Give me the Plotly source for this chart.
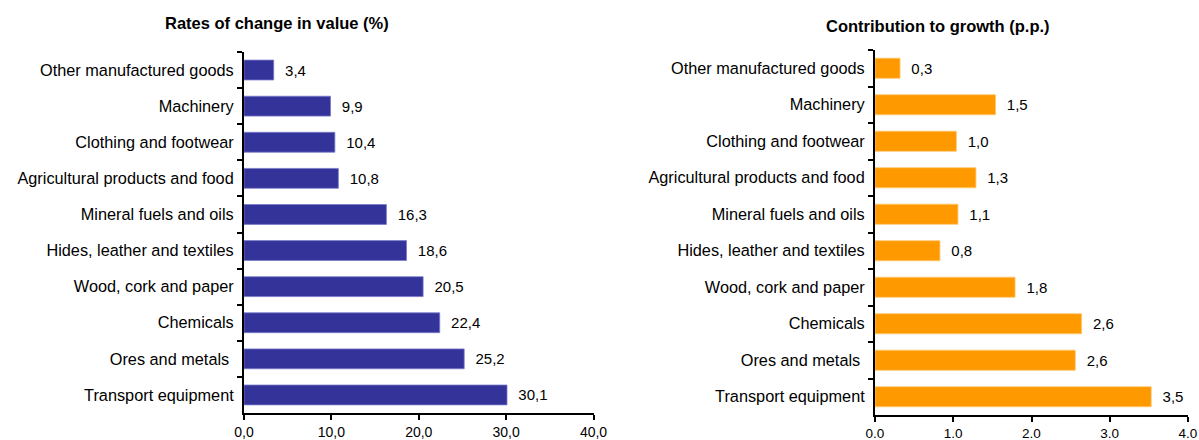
import plotly.graph_objects as go

categories = [
    "Other manufactured goods",
    "Machinery",
    "Clothing and footwear",
    "Agricultural products and food",
    "Mineral fuels and oils",
    "Hides, leather and textiles",
    "Wood, cork and paper",
    "Chemicals",
    "Ores and metals\u00a0",
    "Transport equipment",
]
rates_of_change = [3.4, 9.9, 10.4, 10.8, 16.3, 18.6, 20.5, 22.4, 25.2, 30.1]
contribution = [0.32, 1.54, 1.04, 1.29, 1.06, 0.83, 1.79, 2.64, 2.56, 3.53]

left_tickvals = [0, 10, 20, 30, 40]
left_ticktext = ["0,0", "10,0", "20,0", "30,0", "40,0"]
right_tickvals = [0, 1, 2, 3, 4]
right_ticktext = ["0.0", "1.0", "2.0", "3.0", "4.0"]

title_left = "Rates of change in value (%)"
title_right = "Contribution to growth (p.p.)"

FONT = "Liberation Sans, Arial, sans-serif"
NB = "\u00a0\u00a0"


def fmt(v):
    return NB + f"{v:.1f}".replace(".", ",")


fig = go.Figure()
fig.add_trace(go.Bar(
    y=categories, x=rates_of_change, orientation="h",
    marker=dict(color="#333399", line=dict(color="#7a7acc", width=0.8)),
    text=[fmt(v) for v in rates_of_change], textposition="outside",
    textfont=dict(size=15, color="#000000", family=FONT),
    constraintext="none", cliponaxis=False,
    xaxis="x", yaxis="y", width=0.55, hoverinfo="skip",
))
fig.add_trace(go.Bar(
    y=categories, x=contribution, orientation="h",
    marker=dict(color="#FF9900", line=dict(color="#ffc870", width=0.8)),
    text=[fmt(v) for v in contribution], textposition="outside",
    textfont=dict(size=15, color="#000000", family=FONT),
    constraintext="none", cliponaxis=False,
    xaxis="x2", yaxis="y2", width=0.55, hoverinfo="skip",
))

axis_common = dict(showgrid=False, zeroline=False, showline=True,
                   linecolor="#000000", linewidth=2, ticks="outside",
                   ticklen=5, tickcolor="#000000", tickwidth=1.5,
                   automargin=False)

fig.update_layout(
    width=1199, height=440,
    margin=dict(l=0, r=0, t=0, b=0),
    paper_bgcolor="white", plot_bgcolor="white",
    showlegend=False,
    font=dict(family=FONT, color="#000000"),
    xaxis=dict(domain=[244 / 1199, 593.5 / 1199], range=[0, 40],
               tickvals=left_tickvals, ticktext=left_ticktext,
               tickfont=dict(size=14), anchor="y", **axis_common),
    yaxis=dict(domain=[27 / 440, 388 / 440], autorange="reversed",
               type="category", tickson="boundaries",
               tickfont=dict(size=16.3), ticklabelstandoff=5,
               anchor="x", **axis_common),
    xaxis2=dict(domain=[875 / 1199, 1188 / 1199], range=[0, 4],
                tickvals=right_tickvals, ticktext=right_ticktext,
                tickfont=dict(size=13.5), anchor="y2", **axis_common),
    yaxis2=dict(domain=[25 / 440, 390 / 440], autorange="reversed",
                type="category", tickson="boundaries",
                tickfont=dict(size=16.3), ticklabelstandoff=5,
                anchor="x2", **axis_common),
    annotations=[
        dict(text="<b>" + title_left + "</b>", x=277 / 1199, y=1 - 22.5 / 440,
             xref="paper", yref="paper", xanchor="center", yanchor="middle",
             showarrow=False, font=dict(size=16.5, family=FONT)),
        dict(text="<b>" + title_right + "</b>", x=937.5 / 1199, y=1 - 26 / 440,
             xref="paper", yref="paper", xanchor="center", yanchor="middle",
             showarrow=False, font=dict(size=16.5, family=FONT)),
    ],
    shapes=[
        dict(type="rect", xref="paper", yref="paper", x0=100 / 1199, x1=420 / 1199,
             y0=1 - 18.5 / 440, y1=1, fillcolor="white", line=dict(width=0),
             layer="above"),
    ],
)

fig.write_html(
    "out.html",
    config={"displayModeBar": False},
    post_script="document.body.style.margin='0';document.body.style.overflow='hidden';",
)
